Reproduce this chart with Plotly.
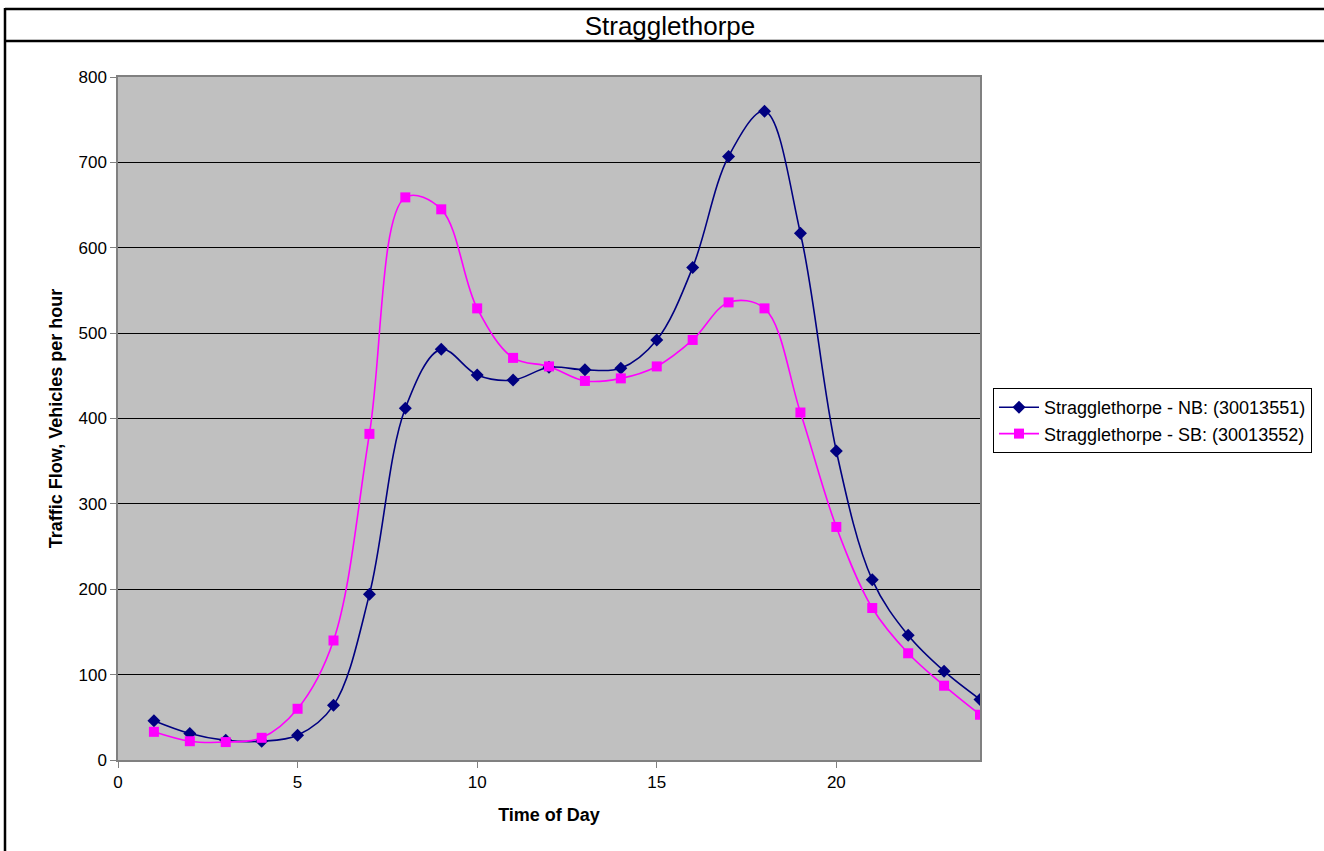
import plotly.graph_objects as go

# Hour of day
hours = list(range(1, 25))

# Hourly traffic counts (vehicles per hour)
nb_flow = [46, 31, 23, 22, 29, 64, 194, 412, 481, 451, 445, 460,
           457, 459, 492, 577, 707, 760, 617, 362, 211, 146, 104, 71]
sb_flow = [33, 22, 21, 26, 60, 140, 382, 659, 645, 529, 471, 461,
           444, 447, 461, 492, 536, 529, 407, 273, 178, 125, 87, 53]

nb_name = "Stragglethorpe - NB: (30013551)"
sb_name = "Stragglethorpe - SB: (30013552)"

FONT = "Liberation Sans, Arial, sans-serif"

fig = go.Figure()
fig.add_trace(go.Scatter(
    x=hours, y=nb_flow, name=nb_name, mode="lines+markers",
    line=dict(color="#000080", width=1.6, shape="spline", smoothing=1.0),
    marker=dict(symbol="diamond", size=10, color="#000080"),
))
fig.add_trace(go.Scatter(
    x=hours, y=sb_flow, name=sb_name, mode="lines+markers",
    line=dict(color="#FF00FF", width=1.6, shape="spline", smoothing=1.0),
    marker=dict(symbol="square", size=10, color="#FF00FF"),
))

# Frame lines around the title band (paper coordinates of the plot area)
L, T, B = 118, 77, 760
W, H = 980 - L, B - T
def px(x):
    return (x - L) / W
def py(y):
    return (B - y) / H

shapes = [
    dict(type="line", xref="paper", yref="paper", x0=px(5), x1=px(1324),
         y0=py(9), y1=py(9), line=dict(color="black", width=2.5)),
    dict(type="line", xref="paper", yref="paper", x0=px(5), x1=px(1324),
         y0=py(41), y1=py(41), line=dict(color="black", width=2.5)),
    dict(type="line", xref="paper", yref="paper", x0=px(5), x1=px(5),
         y0=py(8), y1=py(851), line=dict(color="black", width=2.5)),
]

fig.update_layout(
    width=1324, height=851,
    margin=dict(l=L, r=1324 - 980, t=T, b=851 - B, autoexpand=False),
    paper_bgcolor="white",
    plot_bgcolor="#C0C0C0",
    font=dict(family=FONT, color="black", size=16),
    title=dict(text="Stragglethorpe", x=0.506, xanchor="center",
               y=1 - 26 / 851, yanchor="middle",
               font=dict(family=FONT, size=26, color="black")),
    showlegend=True,
    legend=dict(x=px(993), y=py(388), xanchor="left", yanchor="top",
                bordercolor="black", borderwidth=1, bgcolor="white",
                font=dict(family=FONT, size=18), tracegroupgap=2,
                itemwidth=40),
    shapes=shapes,
    xaxis=dict(
        range=[0, 24], tick0=0, dtick=5, showgrid=False, zeroline=False,
        showline=True, linecolor="#808080", linewidth=1.5, mirror=True,
        ticks="outside", ticklen=6, tickcolor="#808080",
        tickfont=dict(family=FONT, size=17),
        title=dict(text="<b>Time of Day</b>", font=dict(family=FONT, size=18),
                   standoff=17),
    ),
    yaxis=dict(
        range=[0, 800], tick0=0, dtick=100, showgrid=True, gridcolor="black",
        gridwidth=1, zeroline=False,
        showline=True, linecolor="#808080", linewidth=1.5, mirror=True,
        ticks="outside", ticklen=6, tickcolor="#808080",
        tickfont=dict(family=FONT, size=17),
        title=dict(text="<b>Traffic Flow, Vehicles per hour</b>",
                   font=dict(family=FONT, size=18), standoff=11),
    ),
)

fig.write_html("out.html")
